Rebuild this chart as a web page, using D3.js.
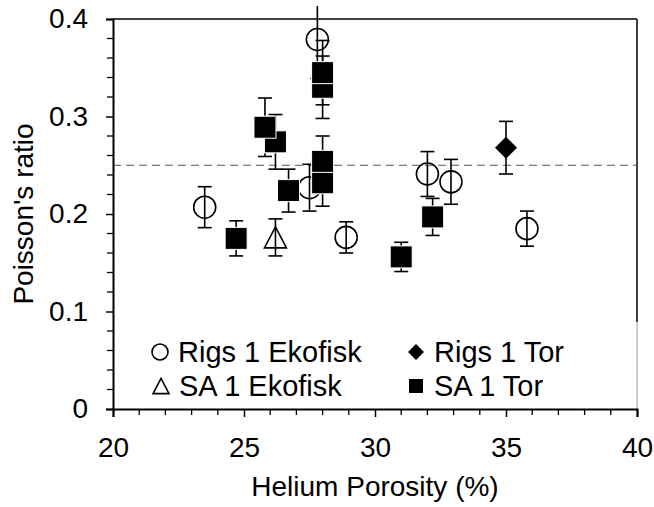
<!DOCTYPE html>
<html>
<head>
<meta charset="utf-8">
<script src="https://cdn.jsdelivr.net/npm/d3@7"></script>
<style>
  html, body { margin: 0; padding: 0; background: #fff; }
  svg { display: block; font-family: "Liberation Sans", Arial, Helvetica, sans-serif; }
</style>
</head>
<body>
<svg id="chart" width="654" height="507"></svg>
<script>
// Helium porosity (%), Poisson's ratio and error (±) per sample group
const rigsEkofiskPorosity = [23.5, 27.8, 27.5, 28.9, 32.0, 32.9, 35.8];
const rigsEkofiskRatio    = [0.207, 0.379, 0.227, 0.176, 0.241, 0.233, 0.185];
const rigsEkofiskError    = [0.021, 0.040, 0.024, 0.016, 0.023, 0.023, 0.018];

const rigsTorPorosity = [35.0];
const rigsTorRatio    = [0.268];
const rigsTorError    = [0.027];

const saEkofiskPorosity = [26.2];
const saEkofiskRatio    = [0.176];
const saEkofiskError    = [0.019];

const saTorPorosity = [24.7, 26.2, 25.8, 26.7, 28.0, 28.0, 28.0, 28.0, 31.0, 32.2];
const saTorRatio    = [0.175, 0.274, 0.289, 0.224, 0.330, 0.345, 0.232, 0.254, 0.156, 0.197];
const saTorError    = [0.018, 0.028, 0.030, 0.022, 0.032, 0.033, 0.024, 0.026, 0.015, 0.019];

const referenceRatio = 0.25;

const xTicks = [20, 25, 30, 35, 40];
const yTicks = [0, 0.1, 0.2, 0.3, 0.4];
const xTickLabels = ["20", "25", "30", "35", "40"];
const yTickLabels = ["0", "0.1", "0.2", "0.3", "0.4"];

const legendLabels = ["Rigs 1 Ekofisk", "Rigs 1 Tor", "SA 1 Ekofisk", "SA 1 Tor"];

const zip = (xs, ys, es) => xs.map((v, i) => ({ x: v, y: ys[i], e: es[i] }));
const series = [
  { name: legendLabels[0], shape: "circle",   points: zip(rigsEkofiskPorosity, rigsEkofiskRatio, rigsEkofiskError) },
  { name: legendLabels[2], shape: "triangle", points: zip(saEkofiskPorosity, saEkofiskRatio, saEkofiskError) },
  { name: legendLabels[3], shape: "square",   points: zip(saTorPorosity, saTorRatio, saTorError) },
  { name: legendLabels[1], shape: "diamond",  points: zip(rigsTorPorosity, rigsTorRatio, rigsTorError) }
];

const svg = d3.select("#chart");
const plotLeft = 113, plotRight = 637, plotTop = 19, plotBottom = 409;

const x = d3.scaleLinear().domain([20, 40]).range([plotLeft, plotRight]);
const y = d3.scaleLinear().domain([0, 0.4]).range([plotBottom, plotTop]);

const ink = "#000";
const fontSize = 28;

// Frame: top and right borders
svg.append("line").attr("x1", plotLeft).attr("x2", plotRight).attr("y1", plotTop).attr("y2", plotTop)
  .attr("stroke", ink).attr("stroke-width", 1.5);
svg.append("line").attr("x1", plotRight).attr("x2", plotRight).attr("y1", plotTop).attr("y2", 322)
  .attr("stroke", ink).attr("stroke-width", 1.5);
svg.append("line").attr("x1", plotRight).attr("x2", plotRight).attr("y1", 322).attr("y2", plotBottom)
  .attr("stroke", "#9a9a9a").attr("stroke-width", 1);

// Reference line at 0.25
svg.append("line")
  .attr("x1", plotLeft).attr("x2", plotRight)
  .attr("y1", y(referenceRatio)).attr("y2", y(referenceRatio))
  .attr("stroke", "#555").attr("stroke-width", 1.2)
  .attr("stroke-dasharray", "8,5");

// Minor tick positions
const xMinor = d3.range(20, 40.001, 1).filter(v => !xTicks.includes(v));
const yMinor = d3.range(0, 0.4001, 0.02).map(v => +v.toFixed(2)).filter(v => !yTicks.includes(v));

const xAxis = d3.axisBottom(x).tickValues(xTicks)
  .tickFormat((d, i) => xTickLabels[i]).tickSize(8).tickPadding(20);
const gx = svg.append("g").attr("transform", `translate(0,${plotBottom})`).call(xAxis);
svg.append("g").selectAll("line").data(xMinor).join("line")
  .attr("x1", d => x(d)).attr("x2", d => x(d))
  .attr("y1", plotBottom).attr("y2", plotBottom + 6)
  .attr("stroke", ink).attr("stroke-width", 1.3);

const yAxis = d3.axisLeft(y).tickValues(yTicks)
  .tickFormat((d, i) => yTickLabels[i]).tickSize(7).tickPadding(18);
const gy = svg.append("g").attr("transform", `translate(${plotLeft},0)`).call(yAxis);
svg.append("g").selectAll("line").data(yMinor).join("line")
  .attr("x1", plotLeft - 6).attr("x2", plotLeft)
  .attr("y1", d => y(d)).attr("y2", d => y(d))
  .attr("stroke", ink).attr("stroke-width", 1.3);

[gx, gy].forEach(g => {
  g.select(".domain").attr("stroke", ink).attr("stroke-width", 2);
  g.selectAll(".tick line").attr("stroke", ink).attr("stroke-width", 1.5);
  g.selectAll(".tick text").attr("fill", ink)
    .style("font-size", fontSize + "px")
    .style("font-family", '"Liberation Sans", Arial, sans-serif');
});

// Axis titles
svg.append("text")
  .attr("x", (plotLeft + plotRight) / 2).attr("y", 496)
  .attr("text-anchor", "middle")
  .style("font-size", fontSize + "px").attr("fill", ink)
  .text("Helium Porosity (%)");
svg.append("text")
  .attr("transform", `translate(33,${(plotTop + plotBottom) / 2}) rotate(-90)`)
  .attr("text-anchor", "middle")
  .style("font-size", fontSize + "px").attr("fill", ink)
  .text("Poisson's ratio");

// Error bars (clipped just above the frame)
svg.append("clipPath").attr("id", "errClip")
  .append("rect").attr("x", 0).attr("y", 6).attr("width", 654).attr("height", 500);
const errG = svg.append("g").attr("clip-path", "url(#errClip)");
const capHalf = 7;
series.forEach(s => {
  s.points.forEach(p => {
    const cx = x(p.x), y1 = y(p.y + p.e), y2 = y(p.y - p.e);
    errG.append("line").attr("x1", cx).attr("x2", cx).attr("y1", y1).attr("y2", y2)
      .attr("stroke", ink).attr("stroke-width", 1.6);
    [y1, y2].forEach(yy => errG.append("line")
      .attr("x1", cx - capHalf).attr("x2", cx + capHalf).attr("y1", yy).attr("y2", yy)
      .attr("stroke", ink).attr("stroke-width", 1.6));
  });
});

// Marker symbols
function drawMarker(g, shape, cx, cy, size) {
  if (shape === "circle") {
    g.append("circle").attr("cx", cx).attr("cy", cy).attr("r", size / 2)
      .attr("fill", "none").attr("stroke", ink).attr("stroke-width", 1.6);
  } else if (shape === "triangle") {
    const h = size * 0.95, w = size;
    g.append("path")
      .attr("d", `M${cx},${cy - h / 2}L${cx + w / 2},${cy + h / 2}L${cx - w / 2},${cy + h / 2}Z`)
      .attr("fill", "none").attr("stroke", ink).attr("stroke-width", 1.6);
  } else if (shape === "square") {
    g.append("rect").attr("x", cx - size / 2).attr("y", cy - size / 2)
      .attr("width", size).attr("height", size)
      .attr("fill", ink).attr("stroke", "#fff").attr("stroke-width", 1);
  } else if (shape === "diamond") {
    const r = size / 2;
    g.append("path")
      .attr("d", `M${cx},${cy - r}L${cx + r},${cy}L${cx},${cy + r}L${cx - r},${cy}Z`)
      .attr("fill", ink);
  }
}

const markG = svg.append("g");
series.forEach(s => s.points.forEach(p => drawMarker(markG, s.shape, x(p.x), y(p.y), 22)));

// Legend
const legendFont = 29;
const legendItems = [
  { label: legendLabels[0], shape: "circle",   mx: 160, ty: 362 },
  { label: legendLabels[1], shape: "diamond",  mx: 416, ty: 362 },
  { label: legendLabels[2], shape: "triangle", mx: 161, ty: 396 },
  { label: legendLabels[3], shape: "square",   mx: 416, ty: 396 }
];
const legG = svg.append("g");
legendItems.forEach(it => {
  const size = it.shape === "square" ? 15 : 16;
  drawMarker(legG, it.shape, it.mx, it.ty - 10, size);
  legG.append("text").attr("x", it.mx + 18).attr("y", it.ty)
    .style("font-size", legendFont + "px").attr("fill", ink).text(it.label);
});
</script>
</body>
</html>
